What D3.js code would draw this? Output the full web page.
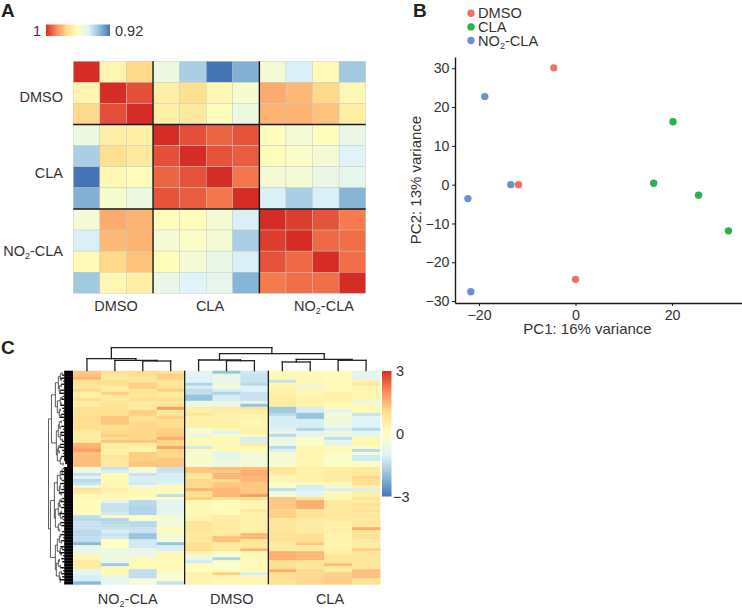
<!DOCTYPE html>
<html><head><meta charset="utf-8">
<script src="https://cdn.jsdelivr.net/npm/d3@7/dist/d3.min.js"></script>
<style>html,body{margin:0;padding:0;background:#fff}svg{display:block}text{font-family:"Liberation Sans",Arial,sans-serif;fill:#333}</style>
</head><body><svg id="c" width="742" height="612"></svg>
<script>
// ---------- Panel A data ----------
const sampleGroups = ["DMSO","CLA","NO2-CLA"];
const corrSamples = ["D1","D2","D3","C1","C2","C3","C4","N1","N2","N3","N4"];
const corrD1 = [1,.9625,.968,.955,.94,.92,.932,.957,.95,.9615,.938];
const corrD2 = [.9625,1,.992,.964,.967,.962,.958,.974,.972,.968,.962];
const corrD3 = [.968,.992,1,.964,.965,.961,.955,.973,.973,.971,.964];
const corrC1 = [.955,.964,.964,1,.992,.987,.991,.961,.957,.961,.954];
const corrC2 = [.94,.967,.965,.992,1,.991,.989,.961,.959,.957,.951];
const corrC3 = [.92,.962,.961,.987,.991,1,.983,.957,.957,.954,.953];
const corrC4 = [.932,.958,.955,.991,.989,.983,1,.95,.94,.95,.933];
const corrN1 = [.957,.974,.973,.961,.961,.957,.95,1,.996,.991,.982];
const corrN2 = [.95,.972,.973,.957,.959,.957,.94,.996,1,.986,.985];
const corrN3 = [.9615,.968,.971,.961,.957,.954,.95,.991,.986,1,.985];
const corrN4 = [.938,.962,.964,.954,.951,.953,.933,.982,.985,.985,1];
const corrRows = [corrD1,corrD2,corrD3,corrC1,corrC2,corrC3,corrC4,corrN1,corrN2,corrN3,corrN4];
const palette = ["#4575b4","#91bfdb","#e0f3f8","#ffffbf","#fee090","#fc8d59","#d73027"];
const corrStops = [.92,.935,.951,.9605,.967,.978,.999];
const zStops = [-3,-1.7,-.7,0,1,2,3];

// ---------- Panel B data ----------
const pcaDMSO = [[-4.5,30.1],[-11.8,0],[0,-24.4]];
const pcaCLA = [[20.2,16.2],[16.2,.35],[25.5,-2.7],[31.7,-11.9]];
const pcaNO2 = [[-18.8,22.7],[-13.4,0],[-22.3,-3.6],[-21.7,-27.6]];
const pcaColors = ["#ec706b","#2bb24c","#6f90d0"];
const xTicks = [-20,0,20];
const yTicks = [-30,-20,-10,0,10,20,30];

// ---------- Panel C data: one list per sample, top row to bottom row ----------
const n1 = [1.3,1.3,1.5,.9,.9,.7,1.1,.5,.5,1,.6,.6,.9,.9,.9,1,1,1,1,.9,.6,.6,.6,.6,1.5,1.6,1.8,1.3,1.4,1.4,1.4,1.4,-.4,-.4,-1,-.7,-1.2,-1,-.4,.9,.7,.2,.2,.1,.1,.1,.1,.1,-1.1,-1.2,-1,-1,-1,-1.2,-1.2,-1.1,-1.1,-1.8,-.5,-.5,-.5,.3,.3,.6,.6,.6,-.6,-.6,-.8,-.8,-1.8];
const n2 = [1,.7,.7,1,1,.6,.6,1.2,.7,.7,.7,.9,.9,.9,.9,1.3,1.3,1.3,1,1,1.1,1.2,.9,1.3,.6,.6,.5,.5,.8,.7,.7,.7,-1,-.8,.2,.2,.2,.2,.2,.5,.4,.2,.2,-.6,-1,-1,-1,-.9,-.1,-1.3,-1.2,-1.1,-1,-.8,-1,-.9,0,0,0,-.4,-.4,-.4,-.4,-.5,-1.5,.2,.2,.2,-.5,-.5,-.6];
const n3 = [1,1,.8,.8,1.2,1.2,.8,.8,.8,1,.6,.6,.6,1.2,1.2,.9,.9,1.1,1.1,1.1,1.1,1.1,1.1,1.3,.7,.4,.4,1.2,1.2,1.2,1.3,1.3,-.3,-.3,-1,-.8,-.8,-.9,-.3,.2,.2,.2,-.1,-1.2,-1.2,-1.3,-1.3,-1.3,-.1,-.1,-1.2,-1.2,-1,-1,-1.6,-1.6,-.9,-.9,-.9,-.5,-.5,-.5,.2,.2,.2,.2,-1.1,-1.1,-1.1,-.3,-.3];
const n4 = [.8,1.2,1.2,.8,.8,.9,1.2,.7,.7,1,.7,.7,1.8,.8,.8,1.2,1,1,1,1.2,1.2,1.2,1.6,1.1,1.1,1.7,1.1,1.1,1.1,1.3,1.3,1.3,-1,-1,-.8,-.8,-.8,-.7,.1,.1,.1,-1.1,-.1,-.6,-.6,-.6,-.6,-.6,-.3,-.3,-.3,-.3,.1,.1,-.3,-.3,-.3,-1.6,-.8,-.8,.2,.2,.2,.2,.2,.2,.2,-.2,-.2,-.2,-1];
const d1 = [-.6,-.6,-.7,-.7,-1.3,-.8,-1.1,-1.1,-1.6,-1.6,-.4,-.4,.5,.5,.8,.5,.5,.5,.5,-.2,-.2,-.4,.2,.2,.2,-.9,.2,-.2,-.2,-.2,-.2,-.2,1.3,1.3,1,.8,1.1,1.1,1.1,1.5,1,1,1.2,.2,.2,.2,.2,.2,.4,.4,.8,.8,.8,.8,.7,.7,.7,1,1,1,.5,-.4,-.4,-.9,.1,.1,.1,.4,.4,.4,.4];
const d2 = [-1.6,-.5,-.5,-.5,-.3,-.3,-.8,-1.3,-.8,-.8,-.5,-.5,.6,.6,.5,.5,.5,.5,.5,.3,-.7,-.2,.2,.2,.2,.2,.2,-.6,-.6,-.4,-.4,-.4,1.4,1.2,1.5,1.5,1,1.3,1.3,1.5,1.5,1.5,.8,.1,.1,.1,.1,.1,.6,.6,.6,.6,.6,.6,.7,1.4,1.4,.7,.7,.7,-.2,-.2,-1.3,-.1,-.1,-.1,.1,1.2,.3,.3,.3];
const d3v = [-.9,-1,-1,-1,-1.2,-.7,-.7,-1,-1,-1,-.6,-1.6,.8,.4,.4,.4,.3,.3,.3,.4,.4,.2,-.8,-.8,.6,.2,.2,-.3,-.3,-.3,-.3,-.3,1.4,1.6,1.6,1.5,1.5,1.3,1.3,1.3,1.3,1.8,1,.3,.3,.3,.7,.5,.5,.5,.5,.5,.5,.5,1.5,1.5,.8,.8,.8,1.5,.2,.2,.2,.2,.2,.2,.2,-.8,.3,.3,.3];
const c1 = [.2,.2,.2,-1,.3,.3,.5,.5,.5,.6,.6,.6,-1.5,-1.5,-1.2,-.8,-.8,-.8,-.8,-.7,-.5,-1.2,-.4,-.4,-.4,-1.2,-.8,-.2,-.2,-.2,-.2,-.2,.8,.8,.5,.3,.3,-.1,-.1,-1.1,-.4,-.2,1.3,1.3,1.3,1.3,1.2,1.2,1.2,.8,.8,.8,.8,.8,.9,.9,.9,.7,.7,.7,1.6,1.6,1.6,1,1,1,1.6,1,1,1,1];
const c2 = [.2,.2,.2,.2,.2,-.5,.3,.3,.3,.4,.4,.4,-.8,-.8,-1.6,-1.6,-.8,-.8,-.8,-1.3,-.6,-.6,-.1,-.1,-.1,.3,.3,.3,.3,.3,.3,.3,.5,.5,.5,.5,.5,.2,-.8,-.8,-.6,-.6,.9,1.6,1.6,1.6,.9,.9,.9,.6,.6,.6,.6,.6,1,1,1,1.3,.7,.7,1.5,1.5,1.5,.8,.8,.8,1.1,1.1,1.1,1.1,1.1];
const c3 = [.1,.1,.1,.1,.1,.1,.1,.5,.5,.5,.2,.2,.2,-.7,-.3,-.3,-.4,-.4,-.4,-.8,-.4,-.4,-1.1,-.6,-.6,.2,.2,-.1,-.1,-.1,-.1,-.1,.6,.6,.6,.6,.6,.2,-.3,-.8,.2,.2,.2,.7,.7,.7,.7,.7,.7,.7,.5,.5,.5,.5,.4,.4,.4,.4,.4,.5,.5,.8,.8,.8,1.4,.7,.7,1.2,1.2,1.2,1.2];
const c4 = [-.6,-.6,-.6,.4,.7,.3,.3,.3,.3,.3,-.5,.2,.2,.2,-1,-.7,-.7,-.7,-.7,-1.2,-.6,-.6,.3,.3,.3,-.1,-1.2,-.2,-.9,-.9,-.1,-.1,.7,.7,.7,1.1,1,1,.5,-.8,.5,.5,.8,.6,.9,.7,.9,.7,.8,.7,.8,.7,1.6,.8,.9,.9,.6,.6,.6,1.2,.8,.8,.8,.8,.8,.8,1.4,1.4,1.4,.9,.9];
const geneColumns = [n1,n2,n3,n4,d1,d2,d3v,c1,c2,c3,c4];
const geneGroupSizes = [4,3,4];
const geneGroupLabels = ["NO2-CLA","DMSO","CLA"];
const zTicks = [-3,0,3];
// tip length of the row dendrogram's leaves, one per row band
const leafTips = [9,11,13,10,12,9,13,14,10,12,9,13,11,10,12,14,10,9,12,10,13,12,9,11,13,14,11,10,12,9,8,6,
  10,13,12,9,11,13,10,12,14,9,11,13,10,12,9,14,11,10,13,12,9,11,13,10,12,9,13,11,14,10,12,11,9,13,10,12,11,13,9];
// row dendrogram: [height, child, child] with [height, firstBand, lastBand] at the tips
const rowTree = [25,
  [22,[18,[15,[13,[11,0,1],[12,2,3]],[14,[12,4,5],[13,6,7]]],[16,[13,[11,8,9],[12,10,11]],[14,[13,12,13],[12,14,15]]]],
      [17,[15,[14,[12,16,17],[13,18,19]],[13,[12,20,21],[11,22,23]]],[16,[15,[13,24,25],[14,26,27]],[13,[12,28,29],[10,30,31]]]]],
  [23,[19,[16,[13,[11,32,34],[12,35,36]],[14,[13,37,39],[12,40,41]]],[18,[15,[14,[12,42,43],[13,44,45]],[13,[12,46,47],[11,48,49]]],[15,[13,50,51],[14,52,53]]]],
      [18,[16,[14,[13,54,55],[12,56,57]],[13,[11,58,59],[12,60,61]]],[17,[15,[14,62,63],[13,64,65]],[14,[12,66,67],[13,68,70]]]]]];
// sample dendrogram: [height, child, child]; a number is a column index
const colTree = [23,[12,0,[10.4,1,[9.7,2,3]]],[17,[10.7,4,[10,5,6]],[11.4,[8.7,7,8],[10.4,9,10]]]];

// ---------- Drawing ----------
const svg = d3.select("#c");
const ink = "#1a1a1a";
const baseSize = 14.5;
function label(g,x,y,s,anchor,size){
  const fs=size||baseSize;
  const t=g.append("text").attr("x",x).attr("y",y).attr("text-anchor",anchor||"start").attr("font-size",fs);
  const m=s.match(/^NO2(.*)$/);
  if(m){t.append("tspan").text("NO");
    t.append("tspan").attr("dy",3).attr("font-size",fs*.62).text("2");
    t.append("tspan").attr("dy",-3).text(m[1]);}
  else t.text(s);
  return t;
}
[["A",1,17],["B",413,17],["C",1,354]].forEach(d=>svg.append("text").attr("x",d[1]).attr("y",d[2]).attr("font-size",19).attr("font-weight","bold").style("fill","#222").text(d[0]));

const defs = svg.append("defs");
function gradient(id,x2,y2,stops){
  const g=defs.append("linearGradient").attr("id",id).attr("x1",0).attr("y1",0).attr("x2",x2).attr("y2",y2);
  stops.forEach((c,i)=>g.append("stop").attr("offset",i/(stops.length-1)).attr("stop-color",c));
}
const revPal = palette.slice().reverse();
gradient("gA",1,0,revPal); gradient("gC",0,1,revPal);

// A
const ax = d3.scaleBand().domain(corrSamples).range([73.3,365.7]);
const ay = d3.scaleBand().domain(corrSamples).range([61.3,293.3]);
const corrColor = d3.scaleLinear().domain(corrStops).range(palette);
const A = svg.append("g");
corrRows.forEach((row,i)=>row.forEach((v,j)=>{
  A.append("rect").attr("x",ax(corrSamples[j])).attr("y",ay(corrSamples[i])).attr("width",ax.bandwidth()).attr("height",ay.bandwidth())
   .attr("fill",corrColor(v)).attr("stroke","#c4c4bc").attr("stroke-width",.4);
}));
const aCuts=[3,7];
aCuts.forEach(k=>{
  const xx=ax(corrSamples[k]), yy=ay(corrSamples[k]);
  A.append("line").attr("x1",xx).attr("x2",xx).attr("y1",61.3).attr("y2",293.3).attr("stroke",ink).attr("stroke-width",1.4);
  A.append("line").attr("y1",yy).attr("y2",yy).attr("x1",73.3).attr("x2",365.7).attr("stroke",ink).attr("stroke-width",1.4);
});
label(A,63,102,"DMSO","end"); label(A,63,178,"CLA","end"); label(A,63,256,"NO2-CLA","end");
label(A,116,311,"DMSO","middle"); label(A,210,311,"CLA","middle"); label(A,324,311,"NO2-CLA","middle");
A.append("rect").attr("x",46).attr("y",24.5).attr("width",64).attr("height",11.5).attr("fill","url(#gA)");
label(A,41,36,"1","end"); label(A,115,36,"0.92");

// B
const px = d3.scaleLinear().domain([-24.97,34.5]).range([455,742]);
const py = d3.scaleLinear().domain([-30.5,32.9]).range([303,57]);
const B = svg.append("g");
const minus = d=>d<0?"\u2212"+(-d):d;
const gx = B.append("g").attr("transform","translate(0,303)").call(d3.axisBottom(px).tickValues(xTicks).tickSize(3).tickPadding(4).tickSizeOuter(0).tickFormat(minus));
const gy = B.append("g").attr("transform","translate(455,0)").call(d3.axisLeft(py).tickValues(yTicks).tickSize(3).tickPadding(2.5).tickSizeOuter(0).tickFormat(minus));
[gx,gy].forEach(g=>{g.attr("font-family",null);g.selectAll("text").attr("font-size",14.2);g.select(".domain").attr("stroke",ink).attr("stroke-width",1.4);g.selectAll(".tick line").attr("stroke",ink);});
[pcaDMSO,pcaCLA,pcaNO2].forEach((s,i)=>s.forEach(d=>B.append("circle").attr("cx",px(d[0])).attr("cy",py(d[1])).attr("r",3.7).attr("fill",pcaColors[i])));
label(B,587.5,334,"PC1: 16% variance","middle",15);
label(B,0,0,"PC2: 13% variance","middle",15).attr("transform","translate(421,180) rotate(-90)");
sampleGroups.forEach((s,i)=>{
  const yy=13.3+i*13.6;
  B.append("circle").attr("cx",471).attr("cy",yy).attr("r",3.7).attr("fill",pcaColors[i]);
  label(B,478,yy+5,s,"start",14.6);
});

// C
const bandCount = n1.length;
const hTop=370.7, hBot=584.3, hLeft=73, hRight=380;
const hx = d3.scaleBand().domain(d3.range(geneColumns.length)).range([hLeft,hRight]);
const hy = d3.scaleBand().domain(d3.range(bandCount)).range([hTop,hBot]);
const zColor = d3.scaleLinear().domain(zStops).range(palette);
const C = svg.append("g");
geneColumns.forEach((col,j)=>col.forEach((v,r)=>{
  C.append("rect").attr("x",hx(j)).attr("y",hy(r)).attr("width",hx.bandwidth()+.4).attr("height",hy.bandwidth()+.4).attr("fill",zColor(v));
}));
let acc=0;
geneGroupSizes.slice(0,2).forEach(n=>{acc+=n;const xx=hx(acc);
  C.append("line").attr("x1",xx).attr("x2",xx).attr("y1",hTop).attr("y2",hBot).attr("stroke",ink).attr("stroke-width",1.3);});
const groupCentres=[127.7,231.7,330];
geneGroupLabels.forEach((s,i)=>label(C,groupCentres[i],604,s,"middle"));
C.append("rect").attr("x",382).attr("y",371).attr("width",9.5).attr("height",125.5).attr("fill","url(#gC)");
const zAxisY = d3.scaleLinear().domain([-3,3]).range([496.5,371]);
zTicks.forEach(t=>label(C,t<0?393:396,zAxisY(t)+5,t<0?"\u2212"+(-t):String(t)));

// sample dendrogram
const colH = d3.scaleLinear().domain([0,23]).range([hTop,347.7]);
const colLine = (x1,y1,x2,y2)=>C.append("line").attr("x1",x1).attr("y1",y1).attr("x2",x2).attr("y2",y2).attr("stroke","#222").attr("stroke-width",1.3).attr("stroke-linecap","square");
function drawCol(n){
  if(typeof n==="number") return {x:hx(n)+hx.bandwidth()/2,y:colH(0)};
  const a=drawCol(n[1]), b=drawCol(n[2]), y=colH(n[0]);
  colLine(a.x,y,b.x,y); colLine(a.x,y,a.x,a.y); colLine(b.x,y,b.x,b.y);
  return {x:(a.x+b.x)/2,y};
}
drawCol(colTree);

// row dendrogram
const rowH = d3.scaleLinear().domain([0,25]).range([hLeft,48.5]);
const rowLine = (x1,y1,x2,y2)=>C.append("line").attr("x1",x1).attr("y1",y1).attr("x2",x2).attr("y2",y2).attr("stroke","#333").attr("stroke-width",.8);
leafTips.forEach((tip,r)=>{
  const solid=Math.min(tip,9);
  C.append("rect").attr("x",rowH(solid)).attr("y",hy(r)).attr("width",hLeft-rowH(solid)).attr("height",hy.bandwidth()+.2).attr("fill","#000");
  if(tip>solid) C.append("rect").attr("x",rowH(tip)).attr("y",hy(r)+.8).attr("width",rowH(solid)-rowH(tip)).attr("height",1.4).attr("fill","#111");
});
function drawRow(n){
  if(!Array.isArray(n[1])){
    const y1=hy(n[1])+1.5,y2=hy(n[2])+1.5,x=rowH(n[0]);
    rowLine(x,y1,x,y2);
    return {x,y:(y1+y2)/2};
  }
  const a=drawRow(n[1]),b=drawRow(n[2]),x=rowH(n[0]);
  rowLine(x,a.y,x,b.y); rowLine(x,a.y,a.x,a.y); rowLine(x,b.y,b.x,b.y);
  return {x,y:(a.y+b.y)/2};
}
drawRow(rowTree);
</script></body></html>
